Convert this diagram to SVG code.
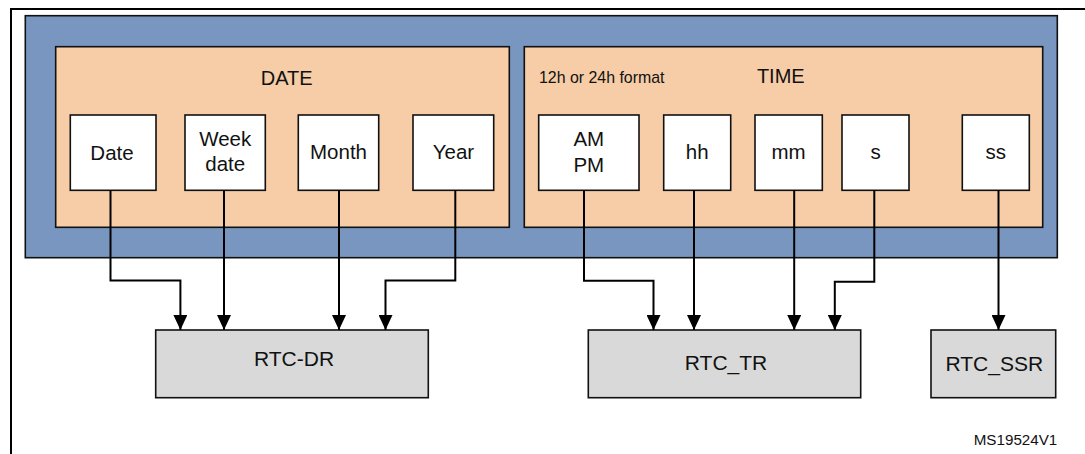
<svg xmlns="http://www.w3.org/2000/svg" width="1085" height="454" viewBox="0 0 1085 454">
  <style>
    text { font-family: "Liberation Sans", Arial, sans-serif; fill: #111; text-anchor: middle; }
    .hdr { font-size: 20px; }
    .fld { font-size: 20.5px; }
    .reg { font-size: 21px; }
    .small { font-size: 15.9px; text-anchor: start; }
    .note { font-size: 15.2px; text-anchor: end; }
    .box { fill: #ffffff; stroke: #111; stroke-width: 1.6; }
    .grp { fill: #F6CDA6; stroke: #111; stroke-width: 1.6; }
    .regbox { fill: #D9D9D9; stroke: #111; stroke-width: 1.6; }
    .wire { fill: none; stroke: #000; stroke-width: 2; marker-end: url(#arr); }
  </style>
  <defs>
    <marker id="arr" markerWidth="15" markerHeight="14" refX="15" refY="7" orient="auto" markerUnits="userSpaceOnUse" viewBox="0 0 15 14">
      <path d="M0,0 L15,7 L0,14 Z" fill="#000"/>
    </marker>
  </defs>
  <rect width="1085" height="454" fill="#ffffff"/>
  <rect id="frame" x="11" y="9" width="1090" height="460" fill="none" stroke="#000" stroke-width="2"/>
  <rect id="calendar" x="25.3" y="15.7" width="1032" height="242" fill="#7896C0" stroke="#111" stroke-width="1.6"/>

  <g id="date-group">
    <rect class="grp" x="55.7" y="46.7" width="453.6" height="180.6"/>
    <text class="hdr" x="286.7" y="85">DATE</text>
  </g>
  <g id="time-group">
    <rect class="grp" x="524.3" y="46.7" width="518.4" height="180.6"/>
    <text class="hdr" x="780.8" y="82.7">TIME</text>
    <text class="small" x="539" y="82.7">12h or 24h format</text>
  </g>

  <g id="date"><rect class="box" x="70.3" y="115" width="85.7" height="75.3"/><text class="fld" x="112" y="160">Date</text></g>
  <g id="weekdate"><rect class="box" x="185" y="115" width="80.3" height="75.3"/><text class="fld" x="225.2" y="145.7">Week</text><text class="fld" x="225.2" y="170.7">date</text></g>
  <g id="month"><rect class="box" x="298.3" y="115" width="80.4" height="75.3"/><text class="fld" x="338.5" y="159.3">Month</text></g>
  <g id="year"><rect class="box" x="413" y="115" width="80.7" height="75.3"/><text class="fld" x="453.4" y="159.3">Year</text></g>

  <g id="ampm"><rect class="box" x="538.7" y="115" width="100.3" height="75.3"/><text class="fld" x="588.8" y="145.7">AM</text><text class="fld" x="588.8" y="171.7">PM</text></g>
  <g id="hh"><rect class="box" x="663.7" y="115" width="67" height="75.3"/><text class="fld" x="697.2" y="159">hh</text></g>
  <g id="mm"><rect class="box" x="755" y="115" width="67.3" height="75.3"/><text class="fld" x="788.6" y="159">mm</text></g>
  <g id="s"><rect class="box" x="842" y="115" width="67" height="75.3"/><text class="fld" x="875.5" y="159">s</text></g>
  <g id="ss"><rect class="box" x="962.3" y="115" width="67" height="75.3"/><text class="fld" x="995.8" y="159">ss</text></g>

  <g id="rtc-dr"><rect class="regbox" x="155.7" y="330" width="272.6" height="67.7"/><text class="reg" x="294" y="365.7">RTC-DR</text></g>
  <g id="rtc-tr"><rect class="regbox" x="588.3" y="330" width="272.4" height="67.7"/><text class="reg" x="726" y="369.7">RTC_TR</text></g>
  <g id="rtc-ssr"><rect class="regbox" x="931" y="330" width="124.7" height="67.7"/><text class="reg" x="994.3" y="371.3">RTC_SSR</text></g>

  <g id="connectors">
    <path class="wire" d="M110.5,190.3 V280.5 H180.4 V330"/>
    <path class="wire" d="M224,190.3 V330"/>
    <path class="wire" d="M339,190.3 V330"/>
    <path class="wire" d="M455.3,190.3 V280.5 H385.5 V330"/>
    <path class="wire" d="M584,190.3 V280.8 H653.5 V330"/>
    <path class="wire" d="M694,190.3 V330"/>
    <path class="wire" d="M794.2,190.3 V330"/>
    <path class="wire" d="M874.3,190.3 V281.7 H834.8 V330"/>
    <path class="wire" d="M998.5,190.3 V330"/>
  </g>

  <text class="note" x="1057.3" y="445">MS19524V1</text>
</svg>
